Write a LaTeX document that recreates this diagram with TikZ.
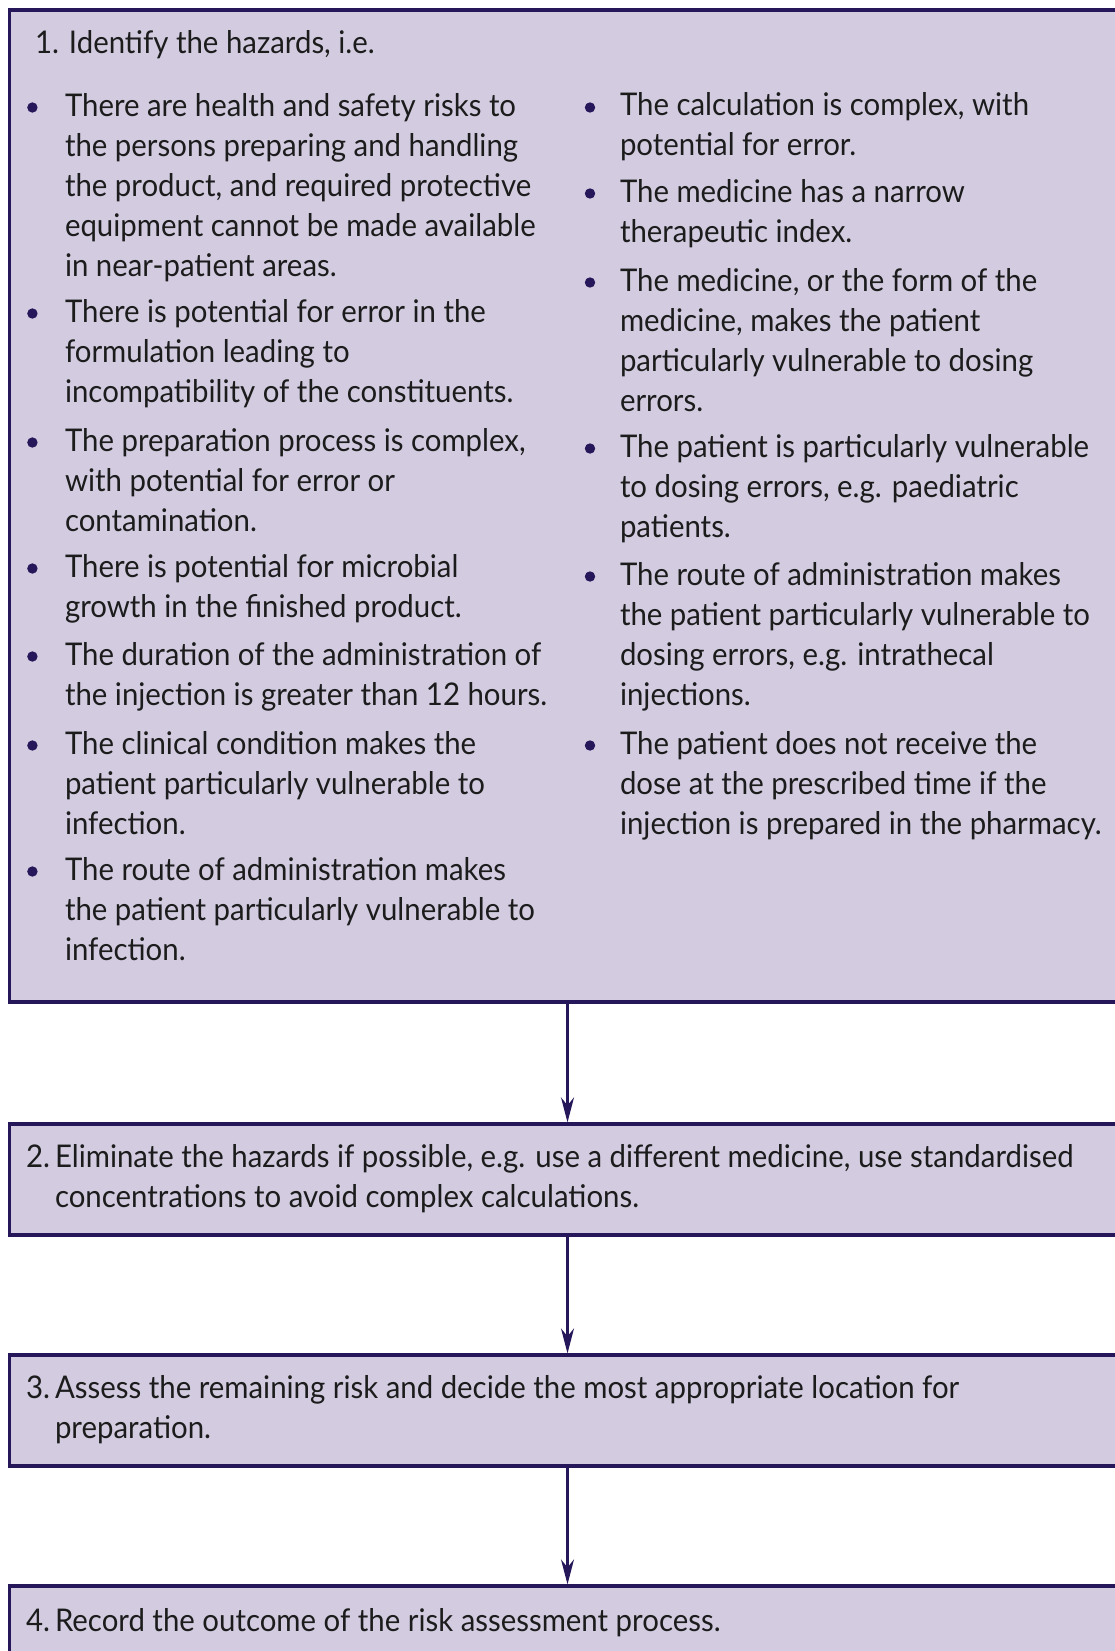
\documentclass[tikz,border=0pt]{standalone}
\usepackage{fontspec}
\setmainfont{Lato}
\usetikzlibrary{arrows.meta}
\newlength\refwd
\newlength\refcap
\settowidth\refwd{\fontsize{10}{12}\selectfont There are health and safety risks toEliminate the hazards if possible, e.g. use a different medicine, use standardisedinjection is prepared in the pharmacy.}
\settoheight\refcap{\fontsize{10}{12}\selectfont H}
\pgfmathsetmacro\diasize{10*22.4/\refcap}
\pgfmathsetmacro\diaratio{1951/\refwd}
\pgfmathsetmacro\diastretch{\diaratio*10/\diasize}
\newfontfamily\diafont[FakeStretch=\diastretch]{Lato}
\definecolor{navy}{RGB}{38,22,90}
\definecolor{boxfill}{RGB}{211,204,225}
\definecolor{ink}{RGB}{28,28,28}
\newcommand{\firststrut}{\rule{0pt}{30pt}}
\tikzset{
  box/.style={draw=navy, fill=boxfill, line width=3.2pt, rectangle, anchor=north west,
    minimum width=1200pt, inner sep=0pt, outer sep=0pt},
  txt/.style={anchor=north west, inner sep=0pt, outer sep=0pt, align=left, text=ink,
    font=\diafont\fontsize{\diasize}{40}\selectfont},
  flow/.style={draw=navy, line width=2.2pt, shorten >=1.6pt,
    -{Stealth[length=25pt,width=13pt,inset=8pt]}},
  bul/.style={fill=navy},
}
\begin{document}
\begin{tikzpicture}[x=1pt,y=-1pt]
\useasboundingbox (0,0) rectangle (1115,1651);
\clip (0,0) rectangle (1115,1651);
% boxes
\node[box, minimum height=992pt] (b1) at (9.5,10) {};
\node[box, minimum height=111pt] (b2) at (9.5,1124) {};
\node[box, minimum height=111pt] (b3) at (9.5,1355) {};
\node[box, minimum height=200pt] (b4) at (9.5,1586) {};
% connectors
\coordinate (ax) at (567.5,0);
\draw[flow] (b1.south -| ax) -- (b2.north -| ax);
\draw[flow] (b2.south -| ax) -- (b3.north -| ax);
\draw[flow] (b3.south -| ax) -- (b4.north -| ax);
% box 1 heading
\node[txt] (h1) at (35,24) {\firststrut 1. Identify the hazards, i.e.};
% left column
\node[txt] (l1) at (65,86) {\firststrut There are health and safety risks to\\the persons preparing and handling\\the product, and required protective\\equipment cannot be made available\\in near-patient areas.};
\node[txt] (l2) at (65,292) {\firststrut There is potential for error in the\\formulation leading to\\incompatibility of the constituents.};
\node[txt] (l3) at (65,421) {\firststrut The preparation process is complex,\\with potential for error or\\contamination.};
\node[txt] (l4) at (65,547) {\firststrut There is potential for microbial\\growth in the finished product.};
\node[txt] (l5) at (65,635) {\firststrut The duration of the administration of\\the injection is greater than 12 hours.};
\node[txt] (l6) at (65,724) {\firststrut The clinical condition makes the\\patient particularly vulnerable to\\infection.};
\node[txt] (l7) at (65,850) {\firststrut The route of administration makes\\the patient particularly vulnerable to\\infection.};
\foreach \by in {107.5,313.5,442.5,568.5,656.5,745.5,871.5}
  \fill[bul] (32.4,\by) circle[radius=5.2pt];
% right column
\node[txt] (r1) at (620,86) {\firststrut The calculation is complex, with\\potential for error.};
\node[txt] (r2) at (620,172) {\firststrut The medicine has a narrow\\therapeutic index.};
\node[txt] (r3) at (620,261) {\firststrut The medicine, or the form of the\\medicine, makes the patient\\particularly vulnerable to dosing\\errors.};
\node[txt] (r4) at (620,427) {\firststrut The patient is particularly vulnerable\\to dosing errors, e.g. paediatric\\patients.};
\node[txt] (r5) at (620,555) {\firststrut The route of administration makes\\the patient particularly vulnerable to\\dosing errors, e.g. intrathecal\\injections.};
\node[txt] (r6) at (620,724) {\firststrut The patient does not receive the\\dose at the prescribed time if the\\injection is prepared in the pharmacy.};
\foreach \by in {107.5,193.5,282.5,448.5,576.5,745.5}
  \fill[bul] (590,\by) circle[radius=5.2pt];
% box 2
\node[txt] (n2) at (26,1137) {\firststrut 2.};
\node[txt] (t2) at (55,1137) {\firststrut Eliminate the hazards if possible, e.g. use a different medicine, use standardised\\concentrations to avoid complex calculations.};
% box 3
\node[txt] (n3) at (26,1368) {\firststrut 3.};
\node[txt] (t3) at (55,1368) {\firststrut Assess the remaining risk and decide the most appropriate location for\\preparation.};
% box 4
\node[txt] (n4) at (26,1601) {\firststrut 4.};
\node[txt] (t4) at (55,1601) {\firststrut Record the outcome of the risk assessment process.};
\end{tikzpicture}
\end{document}
